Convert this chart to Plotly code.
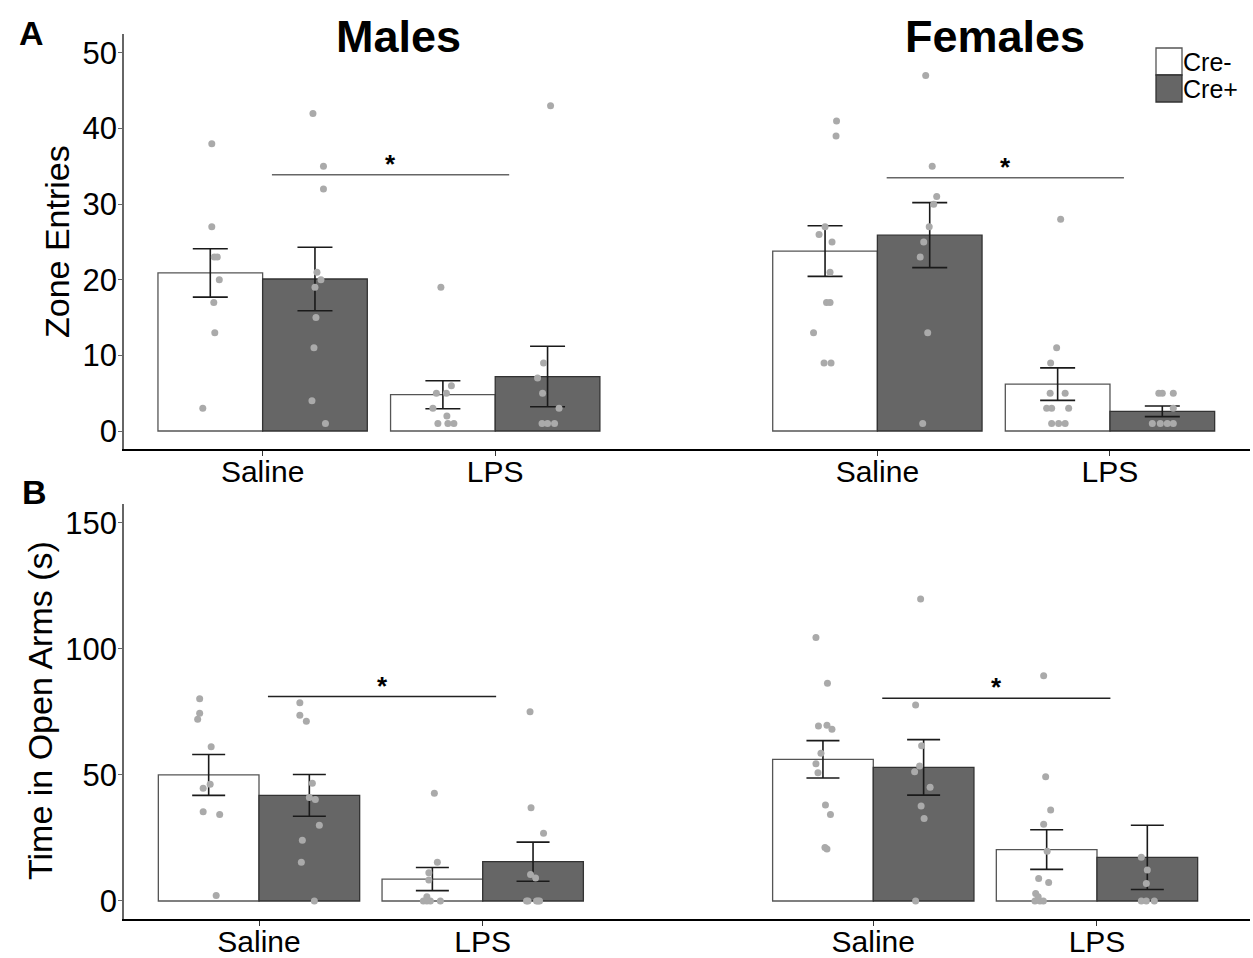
import plotly.graph_objects as go

# ---------------- data ----------------
GROUPS = ["Males Saline", "Males LPS", "Females Saline", "Females LPS"]
X_LABELS = ["Saline", "LPS", "Saline", "LPS"]
SEX_TITLES = ["Males", "Females"]
SERIES = ["Cre-", "Cre+"]

# Panel A: Zone Entries
A_MEAN_CREM = [20.9, 4.8, 23.8, 6.2]
A_SEM_CREM = [3.2, 1.85, 3.35, 2.15]
A_MEAN_CREP = [20.1, 7.2, 25.9, 2.6]
A_SEM_CREP = [4.2, 4.0, 4.3, 0.7]
A_PTS_CREM = [
    [38, 27, 23, 23, 20, 17, 13, 3],
    [19, 6, 5, 5, 3, 2, 1, 1, 1],
    [41, 39, 27, 26, 25, 21, 17, 17, 13, 9, 9],
    [28, 11, 9, 5, 5, 3, 3, 3, 1, 1, 1],
]
A_PTS_CREP = [
    [42, 35, 32, 21, 20, 19, 15, 11, 4, 1],
    [43, 9, 7, 5, 3, 1, 1, 1],
    [47, 35, 31, 30, 27, 25, 23, 13, 1],
    [5, 5, 5, 3, 1, 1, 1, 1],
]

# Panel B: Time in Open Arms (s)
B_MEAN_CREM = [50.0, 8.7, 56.2, 20.4]
B_SEM_CREM = [8.1, 4.6, 7.4, 7.85]
B_MEAN_CREP = [41.9, 15.6, 53.0, 17.3]
B_SEM_CREP = [8.3, 7.75, 11.0, 12.75]
B_PTS_CREM = [
    [80.2, 74.5, 72.1, 61.2, 46.3, 44.7, 35.4, 34.3, 2.2],
    [42.7, 15.4, 11.2, 8.3, 1.7, 0, 0, 0, 0],
    [104.5, 86.4, 69.4, 69.7, 68.1, 58.6, 54.4, 50.9, 38.1, 34.3, 21.2, 20.6],
    [89.4, 49.3, 36.1, 30.4, 19.7, 8.9, 7.3, 3.0, 1.7, 0, 0, 0],
]
B_PTS_CREP = [
    [78.6, 73.7, 71.3, 46.7, 41.1, 40.3, 30.0, 24.1, 15.4, 0],
    [75.1, 37.0, 26.9, 10.5, 9.1, 0, 0, 0, 0, 0],
    [119.8, 77.8, 61.6, 53.6, 51.3, 45.1, 37.7, 32.7, 0],
    [17.3, 12.3, 6.9, 0, 0, 0],
]

# significance bars (y value of line) : Saline vs LPS within each sex
A_SIG_Y = [33.9, 33.5]
B_SIG_Y = [81.1, 80.4]

# ---------------- layout constants (positions / styles) ----------------
W, H = 1253, 958
A_CENTERS = [1, 2, 3.643, 4.643]
B_CENTERS = [1, 2, 3.746, 4.746]
A_XRANGE = [0.404, 5.245]
B_XRANGE = [0.3965, 5.430]
A_YRANGE = [-2.38, 52.5]
B_YRANGE = [-7.15, 157.5]
X_PX = [124, 1250]
A_Y_PX = [34, 449]
B_Y_PX = [504, 919]
BAR_W = 0.45

# horizontal jitter of points, in pixels
A_JIT_CREM = [[1.5, 1.5, 4, 7, 9, 3.5, 4.5, -7.5],
              [-2, 8.5, -6.5, 3.5, -10, 4, -5, 5, 11],
              [11.5, 11, 0, -6, 7, 5, 1.5, 5, -11.5, -1, 6],
              [3, -1, -7, -7.5, 7.5, -11, -6, 11, -6, 1, 7.5]]
A_JIT_CREP = [[-2, 8.5, 8.5, 2, 6, 0, 1, -1, -3, 10.5],
              [3, -4, -10, -5, 11.5, -5.5, 0, 7],
              [-4, 2.5, 7, 4, -0.5, -6, -9.5, -2, -7],
              [-3.5, 0, 11, 11, -10, -2, 5, 11]]
B_JIT_CREM = [[-9, -9, -11, 2.5, 1.5, -5.5, -5.5, 11, 7.5],
              [2, 5, -3.5, -3.5, -5.5, -9, -5.5, 8, -2],
              [-7, 4.5, -4.5, 4, 9, -2, -7, -5, 2.5, 7.5, 2, 4],
              [-3, -1, 4, -3, 0.5, -8, 2, -11, -8.5, -11.7, -6.7, -3.3]]
B_JIT_CREP = [[-9.5, -9.5, -3, 3, 0, 6, 10, -7, -8, 5],
              [-3, -2, 10.5, -2.5, 2.5, -6.5, 3.5, 6.5, -5, 5],
              [-3, -8, -2, -4, -9, 6.5, -2.5, 0.5, -8],
              [-6, 0, -1, -6, -1, 7]]

FONT = "Liberation Sans, Arial, sans-serif"
CREM_FILL, CREM_LINE = "#ffffff", "#555555"
CREP_FILL, CREP_LINE = "#666666", "#333333"
PT_COLOR = "#aaaaaa"


def px_x(p):
    return p / W


def px_y(p):
    return 1 - p / H


fig = go.Figure()

panels = [
    dict(xa="x", ya="y", centers=A_CENTERS, xr=A_XRANGE,
         means=[A_MEAN_CREM, A_MEAN_CREP], sems=[A_SEM_CREM, A_SEM_CREP],
         pts=[A_PTS_CREM, A_PTS_CREP], jit=[A_JIT_CREM, A_JIT_CREP], cap=17.5),
    dict(xa="x2", ya="y2", centers=B_CENTERS, xr=B_XRANGE,
         means=[B_MEAN_CREM, B_MEAN_CREP], sems=[B_SEM_CREM, B_SEM_CREP],
         pts=[B_PTS_CREM, B_PTS_CREP], jit=[B_JIT_CREM, B_JIT_CREP], cap=16.5),
]

fills = [CREM_FILL, CREP_FILL]
lines = [CREM_LINE, CREP_LINE]
offsets = [-BAR_W, 0.0]

for pi, P in enumerate(panels):
    unit_px = (X_PX[1] - X_PX[0]) / (P["xr"][1] - P["xr"][0])
    for s in range(2):
        fig.add_trace(go.Bar(
            x=P["centers"], y=P["means"][s], name=SERIES[s],
            xaxis=P["xa"], yaxis=P["ya"],
            width=BAR_W, offset=offsets[s],
            marker=dict(color=fills[s], line=dict(color=lines[s], width=1.3)),
            error_y=dict(type="data", array=P["sems"][s], visible=True,
                         color="#1a1a1a", thickness=1.6, width=P["cap"]),
            showlegend=False,
        ))
    for s in range(2):
        xs, ys = [], []
        for g in range(4):
            cx = P["centers"][g] + offsets[s] + BAR_W / 2
            for v, j in zip(P["pts"][s][g], P["jit"][s][g]):
                xs.append(cx + j / unit_px)
                ys.append(v)
        fig.add_trace(go.Scatter(
            x=xs, y=ys, mode="markers", xaxis=P["xa"], yaxis=P["ya"],
            marker=dict(color=PT_COLOR, size=7, line=dict(width=0)),
            showlegend=False, hoverinfo="y",
        ))

# significance lines and stars
shapes = []
annotations = []
for P, sig_y, xref, yref, lc in [
    (panels[0], A_SIG_Y, "x", "y", "#666666"),
    (panels[1], B_SIG_Y, "x2", "y2", "#222222"),
]:
    c = P["centers"]
    for k, (g0, g1) in enumerate([(0, 1), (2, 3)]):
        x0 = c[g0] + 0.04
        x1 = c[g1] + 0.06
        shapes.append(dict(type="line", xref=xref, yref=yref, x0=x0, x1=x1,
                           y0=sig_y[k], y1=sig_y[k], line=dict(color=lc, width=1.5)))
        annotations.append(dict(xref=xref, yref=yref, x=(x0 + x1) / 2, y=sig_y[k],
                                text="<b>*</b>", showarrow=False, xanchor="center",
                                yanchor="bottom", yshift=-6,
                                font=dict(family=FONT, size=26, color="black")))


def paper_text(xp, yp, text, size, angle=0, xanchor="center"):
    annotations.append(dict(xref="paper", yref="paper", x=px_x(xp), y=px_y(yp), text=text,
                            textangle=angle, showarrow=False, xanchor=xanchor, yanchor="middle",
                            font=dict(family=FONT, size=size, color="black")))


# panel letters
paper_text(31, 33, "<b>A</b>", 34)
paper_text(34, 492, "<b>B</b>", 34)
# sex titles
for t, xp in zip(SEX_TITLES, [398, 995]):
    paper_text(xp, 36, "<b>%s</b>" % t, 45)
# y axis titles
paper_text(57, 242, "Zone Entries", 34, angle=-90)
paper_text(40, 711, "Time in Open Arms (s)", 34, angle=-90)

# legend drawn manually
LEG_X0, LEG_X1 = 1156, 1182
for s, (ya, yb) in enumerate([(48, 75), (75, 102)]):
    shapes.append(dict(type="rect", xref="paper", yref="paper",
                       x0=px_x(LEG_X0), x1=px_x(LEG_X1), y0=px_y(yb), y1=px_y(ya),
                       fillcolor=fills[s], line=dict(color=lines[s], width=1.3)))
    paper_text(LEG_X1 - 1, (ya + yb) / 2, SERIES[s], 25, xanchor="left")

xaxis_common = dict(showline=True, linecolor="black", linewidth=2, ticks="outside",
                    ticklen=5, tickcolor="#333333", tickwidth=1.2, showgrid=False, zeroline=False,
                    tickfont=dict(family=FONT, size=30, color="black"), automargin=False,
                    ticklabelstandoff=-10,
                    domain=[px_x(X_PX[0]), px_x(X_PX[1])], fixedrange=True)
yaxis_common = dict(showline=True, linecolor="#666666", linewidth=1.5, ticks="outside",
                    ticklen=4, tickcolor="#666666", tickwidth=1.2, showgrid=False, zeroline=False,
                    tickfont=dict(family=FONT, size=31, color="black"), automargin=False,
                    ticklabelstandoff=-5, fixedrange=True)

fig.update_layout(
    width=W, height=H,
    margin=dict(l=0, r=0, t=0, b=0),
    paper_bgcolor="white", plot_bgcolor="white",
    barmode="overlay",
    showlegend=False,
    shapes=shapes, annotations=annotations,
    xaxis=dict(xaxis_common, range=A_XRANGE, tickvals=A_CENTERS, ticktext=X_LABELS, anchor="y"),
    yaxis=dict(yaxis_common, range=A_YRANGE, tickvals=[0, 10, 20, 30, 40, 50],
               domain=[px_y(A_Y_PX[1]), px_y(A_Y_PX[0])], anchor="x"),
    xaxis2=dict(xaxis_common, range=B_XRANGE, tickvals=B_CENTERS, ticktext=X_LABELS, anchor="y2"),
    yaxis2=dict(yaxis_common, range=B_YRANGE, tickvals=[0, 50, 100, 150],
                domain=[px_y(B_Y_PX[1]), px_y(B_Y_PX[0])], anchor="x2"),
)

fig.write_html("out.html", config={"displayModeBar": False},
               post_script="document.body.style.margin='0px';")
